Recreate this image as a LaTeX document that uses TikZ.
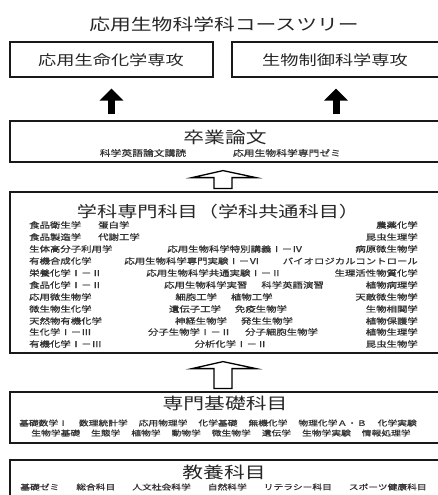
\documentclass[tikz,border=0pt]{standalone}
\usepackage{fontspec}
\setmainfont[FakeStretch=1.3]{Noto Sans CJK JP}
\newfontfamily\jpsmall[FakeStretch=1.3,FakeBold=1]{Noto Sans CJK JP}
\usetikzlibrary{calc}
\usetikzlibrary{arrows.meta}

\newcommand\gp{\hspace{14pt}}
% hollow arrow from the lower box #2 up to the upper box #1
\newcommand\hollowup[2]{%
  \coordinate (T) at ($(#1.south)+(-2,8)$);
  \coordinate (B) at ($(#2.north)+(-2,-3)$);
  \draw[hollowarr] (T) -- ++(33,7) -- ++(-24,0) -- ($(B)+(9,0)$)
    -- ($(B)+(-9,0)$) -- ($(T)+(-9,7)$) -- ++(-22,0) -- cycle;}

\begin{document}
\begin{tikzpicture}[x=1pt,y=-1pt]
    \tikzstyle{course}=[draw,line width=1.2pt,black!90,inner sep=0pt]
    \tikzstyle{head}=[inner sep=0pt,text=black!85,font=\fontsize{16}{18}\selectfont]
    \tikzstyle{major}=[inner sep=0pt,text=black!85,font=\fontsize{14}{16}\selectfont]
    \tikzstyle{subj}=[inner sep=0pt,text=black!80,font=\jpsmall\fontsize{8}{9}\selectfont]
    \tikzstyle{basic}=[inner sep=0pt,text=black!80,font=\jpsmall\fontsize{7.5}{9}\selectfont]
    \tikzstyle{bigarrow}=[draw,line width=7pt,black,-{Triangle[width=23pt,length=12pt]},shorten <=6pt,shorten >=11pt]
    \tikzstyle{hollowarr}=[draw,line width=1.3pt,black,fill=white,line join=miter]
    \useasboundingbox (0,0) rectangle (438,495);

    \node[head] (title) at (224,24) {応用生物科学科コースツリー};

    % boxes
    \node[course,minimum width=203pt,minimum height=35pt] (seimei) at (111.5,59.5) {};
    \node[course,minimum width=208pt,minimum height=35pt] (seigyo) at (336,59.5) {};
    \node[course,minimum width=430pt,minimum height=41pt] (sotsu) at (225,141.5) {};
    \node[course,minimum width=430pt,minimum height=161pt] (gakka) at (225,272.5) {};
    \node[course,minimum width=430pt,minimum height=51pt] (kiso) at (225,417.5) {};
    \node[course,minimum width=430pt,minimum height=40pt] (kyoyo) at (225,480) {};

    \node[major] (seimeiT) at (111,60) {応用生命化学専攻};
    \node[major] (seigyoT) at (335,60) {生物制御科学専攻};

    \draw[bigarrow] (sotsu.north -| seimei.south) -- (seimei.south);
    \draw[bigarrow] (sotsu.north -| seigyo.south) -- (seigyo.south);

    \node[head] (sotsuT) at (225,137) {卒業論文};
    \node[subj,font=\jpsmall\fontsize{8.3}{9}\selectfont] (s1) at (143,153) {科学英語論文講読};
    \node[subj,font=\jpsmall\fontsize{8.3}{9}\selectfont] (s2) at (287,153) {応用生物科学専門ゼミ};

    \hollowup{sotsu}{gakka}

    \node[head,font=\fontsize{15.5}{18}\selectfont] (gakkaT) at (218,212) {学科専門科目（学科共通科目）};
    \node[subj,anchor=west] (l1) at (29,225) {食品衛生学};
    \node[subj,anchor=west] (l2) at (29,237) {食品製造学};
    \node[subj,anchor=west] (l3) at (29,249) {生体高分子利用学};
    \node[subj,anchor=west] (l4) at (29,261) {有機合成化学};
    \node[subj,anchor=west] (l5) at (29,273) {栄養化学Ⅰ－Ⅱ};
    \node[subj,anchor=west] (l6) at (29,285) {食品化学Ⅰ－Ⅱ};
    \node[subj,anchor=west] (l7) at (29,297) {応用微生物学};
    \node[subj,anchor=west] (l8) at (29,309) {微生物生化学};
    \node[subj,anchor=west] (l9) at (29,321) {天然物有機化学};
    \node[subj,anchor=west] (l10) at (29,332) {生化学Ⅰ－Ⅲ};
    \node[subj,anchor=west] (l11) at (29,344) {有機化学Ⅰ－Ⅲ};

    \node[subj,anchor=west] (m1) at (98,225) {蛋白学};
    \node[subj,anchor=west] (m2) at (98,237) {代謝工学};
    \node[subj] (m3) at (235,249) {応用生物科学特別講義Ⅰ－Ⅳ};
    \node[subj] (m4) at (192,261) {応用生物科学専門実験Ⅰ－Ⅵ};
    \node[subj] (m5) at (214,273) {応用生物科学共通実験Ⅰ－Ⅱ};
    \node[subj] (m6) at (244,285) {応用生物科学実習\gp 科学英語演習};
    \node[subj] (m7) at (224,297) {細胞工学\gp 植物工学};
    \node[subj] (m8) at (228,309) {遺伝子工学\gp 免疫生物学};
    \node[subj] (m9) at (234,321) {神経生物学\gp 発生生物学};
    \node[subj] (m10) at (233,332) {分子生物学Ⅰ－Ⅱ\gp 分子細胞生物学};
    \node[subj] (m11) at (231,344) {分析化学Ⅰ－Ⅱ};

    \node[subj,anchor=east] (r1) at (418,225) {農薬化学};
    \node[subj,anchor=east] (r2) at (418,237) {昆虫生理学};
    \node[subj,anchor=east] (r3) at (418,249) {病原微生物学};
    \node[subj,anchor=east] (r4) at (418,261) {バイオロジカルコントロール};
    \node[subj,anchor=east] (r5) at (418,273) {生理活性物質化学};
    \node[subj,anchor=east] (r6) at (418,285) {植物病理学};
    \node[subj,anchor=east] (r7) at (418,297) {天敵微生物学};
    \node[subj,anchor=east] (r8) at (418,309) {生物相関学};
    \node[subj,anchor=east] (r9) at (418,321) {植物保護学};
    \node[subj,anchor=east] (r10) at (418,332) {植物生理学};
    \node[subj,anchor=east] (r11) at (418,344) {昆虫生物学};

    \hollowup{gakka}{kiso}

    \node[head] (kisoT) at (225,403) {専門基礎科目};
    \node[basic] (k1) at (218,423) {基礎数学Ⅰ\hspace{11pt}数理統計学\hspace{11pt}応用物理学\hspace{11pt}化学基礎\hspace{11pt}無機化学\hspace{11pt}物理化学Ａ・Ｂ\hspace{11pt}化学実験};
    \node[basic] (k2) at (221,433) {生物学基礎\hspace{11pt}生態学\hspace{11pt}植物学\hspace{11pt}動物学\hspace{11pt}微生物学\hspace{11pt}遺伝学\hspace{11pt}生物学実験\hspace{11pt}情報処理学};

    \node[head] (kyoyoT) at (224,472) {教養科目};
    \node[basic] (y1) at (223.5,487) {基礎ゼミ\hspace{17pt}総合科目\hspace{17pt}人文社会科学\hspace{17pt}自然科学\hspace{17pt}リテラシー科目\hspace{17pt}スポーツ健康科目};
\end{tikzpicture}
\end{document}
